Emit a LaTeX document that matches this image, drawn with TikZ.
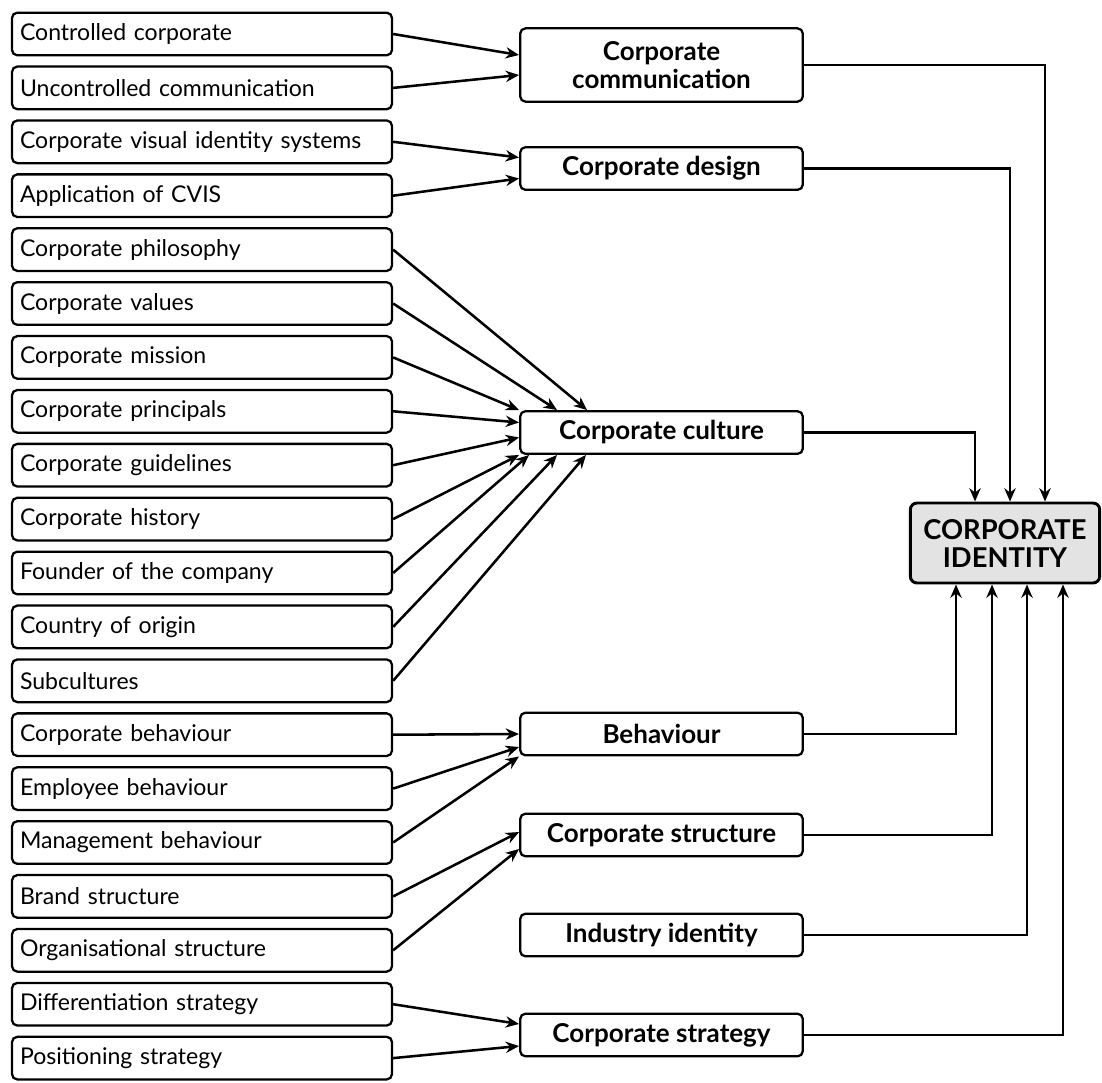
\documentclass[tikz,border=0pt]{standalone}
\usepackage{fontspec}
\setmainfont{Lato}
\usetikzlibrary{arrows.meta,calc}

\begin{document}
\begin{tikzpicture}[x=0.75pt,y=0.75pt,yscale=-1,xscale=1,
  leftbox/.style={draw, line width=1.7pt, rounded corners=4pt, text width=273pt, inner xsep=6pt, minimum height=32pt, align=left, font=\fontsize{17.3}{20}\selectfont},
  midbox/.style={draw, line width=1.7pt, rounded corners=4pt, minimum width=212pt, minimum height=32pt, align=center, font=\bfseries\fontsize{19.5}{21}\selectfont},
  idbox/.style={draw, line width=2.2pt, rounded corners=5pt, fill=gray!22, minimum width=142pt, minimum height=60pt, inner sep=2pt, align=center, font=\bfseries\fontsize{20.5}{21}\selectfont},
  arr/.style={line width=1.9pt, -{Stealth[length=10pt,width=8.5pt]}}]
\useasboundingbox (0,0) rectangle (1102,1082);

% Left column
\node [leftbox] (ctrl) at (202,34) {Controlled corporate};
\node [leftbox] (unctrl) at (202,87.9) {Uncontrolled communication};
\node [leftbox] (cvis) at (202,141.8) {Corporate visual identity systems};
\node [leftbox] (appl) at (202,195.7) {Application of CVIS};
\node [leftbox] (phil) at (202,249.6) {Corporate philosophy};
\node [leftbox] (vals) at (202,303.5) {Corporate values};
\node [leftbox] (miss) at (202,357.4) {Corporate mission};
\node [leftbox] (princ) at (202,411.3) {Corporate principals};
\node [leftbox] (guide) at (202,465.2) {Corporate guidelines};
\node [leftbox] (hist) at (202,519.1) {Corporate history};
\node [leftbox] (found) at (202,573) {Founder of the company};
\node [leftbox] (origin) at (202,626.9) {Country of origin};
\node [leftbox] (subc) at (202,680.8) {Subcultures};
\node [leftbox] (cbeh) at (202,734.7) {Corporate behaviour};
\node [leftbox] (ebeh) at (202,788.6) {Employee behaviour};
\node [leftbox] (mbeh) at (202,842.5) {Management behaviour};
\node [leftbox] (brand) at (202,896.4) {Brand structure};
\node [leftbox] (orgs) at (202,950.3) {Organisational structure};
\node [leftbox] (diff) at (202,1004.2) {Differentiation strategy};
\node [leftbox] (posi) at (202,1058.1) {Positioning strategy};

% Middle column
\node [midbox, minimum height=55pt] (comm) at (661.5,65) {Corporate\\communication};
\node [midbox] (design) at (661.5,168.5) {Corporate design};
\node [midbox] (cult) at (661.5,432.5) {Corporate culture};
\node [midbox] (beh) at (661.5,734) {Behaviour};
\node [midbox] (struc) at (661.5,835) {Corporate structure};
\node [midbox] (indus) at (661.5,935) {Industry identity};
\node [midbox] (strat) at (661.5,1035) {Corporate strategy};

% Text Node
\node [idbox] (ci) at (1005,543) {CORPORATE\\IDENTITY};

%Straight Lines
\draw [arr] (ctrl.east) -- ($(comm.west)+(0,-10)$);
\draw [arr] (unctrl.east) -- ($(comm.west)+(0,10)$);
\draw [arr] (cvis.east) -- ($(design.west)+(0,-11)$);
\draw [arr] (appl.east) -- ($(design.west)+(0,10)$);

\draw [arr] (phil.east) -- ($(cult.north west)+(68,0)$);
\draw [arr] (vals.east) -- ($(cult.north west)+(38,0)$);
\draw [arr] (miss.east) -- (cult.north west);
\draw [arr] (princ.east) -- ($(cult.west)+(0,-10)$);
\draw [arr] (guide.east) -- ($(cult.west)+(0,5)$);
\draw [arr] (hist.east) -- (cult.south west);
\draw [arr] (found.east) -- ($(cult.south west)+(10,0)$);
\draw [arr] (origin.east) -- ($(cult.south west)+(38,0)$);
\draw [arr] (subc.east) -- ($(cult.south west)+(67,0)$);

\draw [arr] (cbeh.east) -- (beh.west);
\draw [arr] (ebeh.east) -- ($(beh.west)+(0,13)$);
\draw [arr] (mbeh.east) -- (beh.south west);
\draw [arr] (brand.east) -- ($(struc.west)+(0,-3)$);
\draw [arr] (orgs.east) -- ($(struc.west)+(0,14)$);
\draw [arr] (diff.east) -- ($(strat.west)+(0,-11)$);
\draw [arr] (posi.east) -- ($(strat.west)+(0,11)$);

% Elbow lines into the identity box
\draw [arr] (comm.east) -| ($(ci.north)+(40,0)$);
\draw [arr] (design.east) -| ($(ci.north)+(5,0)$);
\draw [arr] (cult.east) -| ($(ci.north)+(-30,0)$);
\draw [arr] (beh.east) -| ($(ci.south)+(-49,0)$);
\draw [arr] (struc.east) -| ($(ci.south)+(-13,0)$);
\draw [arr] (indus.east) -| ($(ci.south)+(22,0)$);
\draw [arr] (strat.east) -| ($(ci.south)+(58,0)$);

\end{tikzpicture}
\end{document}
